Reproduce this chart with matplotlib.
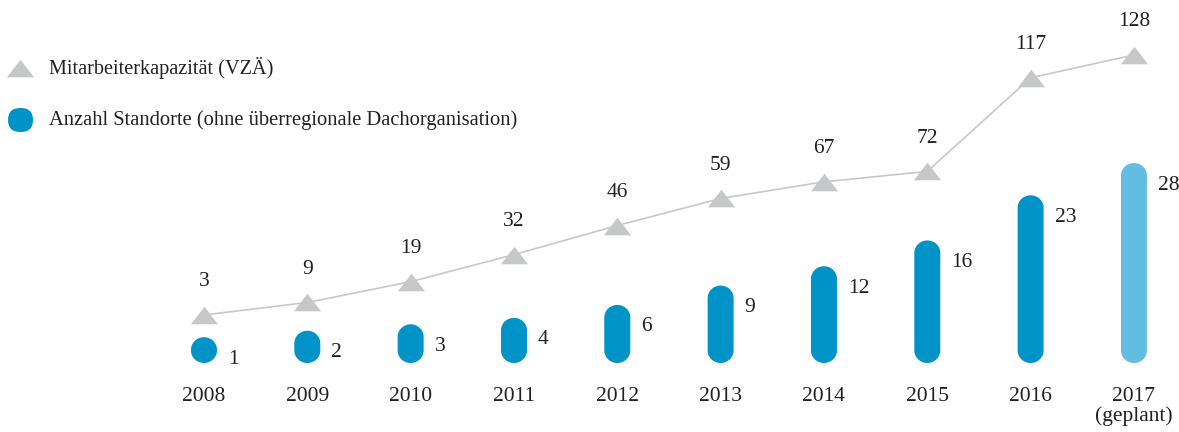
#!/usr/bin/env python3

import numpy as np
import matplotlib.pyplot as plt
from matplotlib.patches import FancyBboxPatch, Polygon
from matplotlib.lines import Line2D

years = ["2008", "2009", "2010", "2011", "2012", "2013", "2014", "2015", "2016", "2017\n(geplant)"]
staff = [3, 9, 19, 32, 46, 59, 67, 72, 117, 128]
sites = [1, 2, 3, 4, 6, 9, 12, 16, 23, 28]

BLUE = "#0093c8"
LIGHT = "#63bde2"
GREY = "#c6c7c9"
LINE = "#c8c8c8"
TEXT = "#231f20"
FONT = "Liberation Serif"

W, H = 1179, 432


def pill(ax, x, y0, y1, rx, ry, col):
    # one closed outline: round top cap, round bottom cap
    t_top = np.linspace(0, np.pi, 40)
    t_bot = np.linspace(np.pi, 2 * np.pi, 40)
    cy_top = max(y1 - ry, y0 + ry)
    cy_bot = y0 + ry
    pts = [(x + rx * np.cos(t), cy_top + ry * np.sin(t)) for t in t_top]
    pts += [(x + rx * np.cos(t), cy_bot + ry * np.sin(t)) for t in t_bot]
    ax.add_patch(Polygon(pts, closed=True, fc=col, ec="none", lw=0))


def plot():
    fig = plt.figure(figsize=(W / 100, H / 100), dpi=100)
    ax = fig.add_axes([0, 0, 1, 1])
    ax.set_xlim(-1.974, 9.436)
    ax.set_ylim(-13.70, 53.28)
    ax.axis("off")

    xpp = (9.436 + 1.974) / W
    ypp = (53.28 + 13.70) / H
    bw = 26 * xpp
    base = -3
    for i, v in enumerate(sites):
        col = LIGHT if i == len(sites) - 1 else BLUE
        pill(ax, i, base, v, 13 * xpp, 12.5 * ypp, col)
        ax.annotate(str(v), (i + bw / 2, v), xytext=(8, -9), textcoords="offset points",
                    ha="left", va="top", fontsize=15.5, family=FONT, color=TEXT)
        ax.text(i, -6.8, years[i], ha="center", va="top",
                fontsize=15.5, family=FONT, color=TEXT, linespacing=1.0)

    ax2 = ax.twinx()
    ax2.set_ylim(-53.25, 154.4)
    ax2.axis("off")
    tri = [(-1, -0.65), (1, -0.65), (0, 0.65)]
    xs = list(range(len(staff)))
    ax2.plot(xs, staff, color=LINE, lw=1.2, zorder=1)
    ax2.plot(xs, staff, ls="none", marker=tri, ms=19.5, mfc=GREY, mec="none", zorder=2)
    for i, v in enumerate(staff):
        ax2.annotate(str(v), (i, v), xytext=(0, 24), textcoords="offset points",
                     ha="center", va="center", fontsize=15.5, family=FONT, color=TEXT)

    # legend
    ax.add_line(Line2D([20 / W], [1 - 68 / H], transform=fig.transFigure, marker=tri,
                       ms=19.5, mfc=GREY, mec="none", ls="none"))
    ax.add_patch(FancyBboxPatch((8 / W, 1 - 132 / H), 25 / W, 24 / H,
                                boxstyle="round,pad=0,rounding_size=%f" % (12 / W),
                                mutation_aspect=W / H, fc=BLUE, ec="none",
                                transform=fig.transFigure))
    fig.text(49 / W, 1 - 68 / H, "Mitarbeiterkapazität (VZÄ)", ha="left", va="center",
             fontsize=14.6, family=FONT, color=TEXT)
    fig.text(49 / W, 1 - 120 / H, "Anzahl Standorte (ohne überregionale Dachorganisation)",
             ha="left", va="center", fontsize=14.8, family=FONT, color=TEXT)

    fig.savefig("out.png", dpi=100)


if __name__ == "__main__":
    plot()
